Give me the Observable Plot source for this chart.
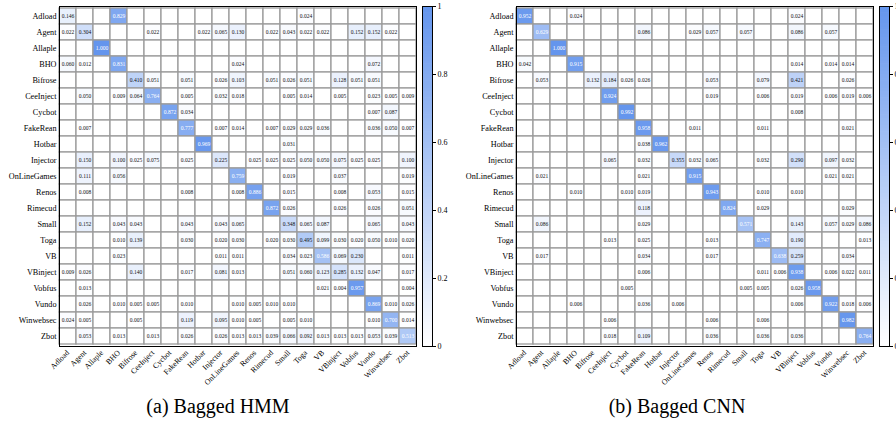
<!DOCTYPE html>
<html>
<head>
<meta charset="utf-8">
<script src="https://cdn.jsdelivr.net/npm/d3@7"></script>
<script src="https://cdn.jsdelivr.net/npm/@observablehq/plot@0.6"></script>
<style>
  html, body { margin: 0; padding: 0; background: #fff; }
  body { width: 896px; height: 423px; overflow: hidden; position: relative; font-family: "Liberation Serif", "Times New Roman", serif; }
  svg, svg text, svg g { font-family: "Liberation Serif", "Times New Roman", serif !important; }
  .abs { position: absolute; }
  .cap { position: absolute; font-size: 20px; line-height: 20px; white-space: nowrap; transform: translateX(-50%); color: #000; font-family: "Liberation Serif", "Times New Roman", serif; }
</style>
</head>
<body>
<script>
const classes = ["Adload","Agent","Allaple","BHO","Bifrose","CeeInject","Cycbot","FakeRean","Hotbar","Injector","OnLineGames","Renos","Rimecud","Small","Toga","VB","VBinject","Vobfus","Vundo","Winwebsec","Zbot"];

// (a) Bagged HMM — rows: actual class, columns: predicted class (same order as classes)
const hmm = [
  [0.146,0,0,0.829,0,0,0,0,0,0,0,0,0,0,0.024,0,0,0,0,0,0],
  [0.022,0.304,0,0,0,0.022,0,0,0.022,0.065,0.130,0,0.022,0.043,0.022,0.022,0,0.152,0.152,0.022,0],
  [0,0,1.000,0,0,0,0,0,0,0,0,0,0,0,0,0,0,0,0,0,0],
  [0.060,0.012,0,0.831,0,0,0,0,0,0,0.024,0,0,0,0,0,0,0,0.072,0,0],
  [0,0,0,0,0.410,0.051,0,0.051,0,0.026,0.103,0,0.051,0.026,0.051,0,0.128,0.051,0.051,0,0],
  [0,0.050,0,0.009,0.064,0.764,0,0.005,0,0.032,0.018,0,0,0.005,0.014,0,0.005,0,0.023,0.005,0.009],
  [0,0,0,0,0,0,0.872,0.034,0,0,0,0,0,0,0,0,0,0,0.007,0.087,0],
  [0,0.007,0,0,0,0,0,0.777,0,0.007,0.014,0,0.007,0.029,0.029,0.036,0,0,0.036,0.050,0.007],
  [0,0,0,0,0,0,0,0,0.969,0,0,0,0,0.031,0,0,0,0,0,0,0],
  [0,0.150,0,0.100,0.025,0.075,0,0.025,0,0.225,0,0.025,0.025,0.025,0.050,0.050,0.075,0.025,0.025,0,0.100],
  [0,0.111,0,0.056,0,0,0,0,0,0,0.759,0,0,0.019,0,0,0.037,0,0,0,0.019],
  [0,0.008,0,0,0,0,0,0.008,0,0,0.008,0.886,0,0.015,0,0,0.008,0,0.053,0,0.015],
  [0,0,0,0,0,0,0,0,0,0,0,0,0.872,0.026,0,0,0.026,0,0.026,0,0.051],
  [0,0.152,0,0.043,0.043,0,0,0.043,0,0.043,0.065,0,0,0.348,0.065,0.087,0,0,0.065,0,0.043],
  [0,0,0,0.010,0.139,0,0,0.030,0,0.020,0.030,0,0.020,0.030,0.495,0.099,0.030,0.020,0.050,0.010,0.020],
  [0,0,0,0.023,0,0,0,0,0,0.011,0.011,0,0,0.034,0.023,0.586,0.069,0.230,0,0,0.011],
  [0.009,0.026,0,0,0.140,0,0,0.017,0,0.081,0.013,0,0,0.051,0.060,0.123,0.285,0.132,0.047,0,0.017],
  [0,0.013,0,0,0,0,0,0,0,0,0,0,0,0,0,0.021,0.004,0.957,0,0,0.004],
  [0,0.026,0,0.010,0.005,0.005,0,0.010,0,0,0.010,0.005,0.010,0.010,0,0,0,0,0.869,0.010,0.026],
  [0.024,0.005,0,0,0.005,0,0,0.119,0,0.095,0.010,0.005,0,0.005,0.010,0,0,0,0.010,0.700,0.014],
  [0,0.053,0,0.013,0,0.013,0,0.026,0,0.026,0.013,0.013,0.039,0.066,0.092,0.013,0.013,0.013,0.053,0.039,0.513]
];

// (b) Bagged CNN
const cnn = [
  [0.952,0,0,0.024,0,0,0,0,0,0,0,0,0,0,0,0,0.024,0,0,0,0],
  [0,0.629,0,0,0,0,0,0.086,0,0,0.029,0.057,0,0.057,0,0,0.086,0,0.057,0,0],
  [0,0,1.000,0,0,0,0,0,0,0,0,0,0,0,0,0,0,0,0,0,0],
  [0.042,0,0,0.915,0,0,0,0,0,0,0,0,0,0,0,0,0.014,0,0.014,0.014,0],
  [0,0.053,0,0,0.132,0.184,0.026,0.026,0,0,0,0.053,0,0,0.079,0,0.421,0,0,0.026,0],
  [0,0,0,0,0,0.924,0,0,0,0,0,0.019,0,0,0.006,0,0.019,0,0.006,0.019,0.006],
  [0,0,0,0,0,0,0.992,0,0,0,0,0,0,0,0,0,0.008,0,0,0,0],
  [0,0,0,0,0,0,0,0.958,0,0,0.011,0,0,0,0.011,0,0,0,0,0.021,0],
  [0,0,0,0,0,0,0,0.038,0.962,0,0,0,0,0,0,0,0,0,0,0,0],
  [0,0,0,0,0,0.065,0,0.032,0,0.355,0.032,0.065,0,0,0.032,0,0.290,0,0.097,0.032,0],
  [0,0.021,0,0,0,0,0,0.021,0,0,0.915,0,0,0,0,0,0,0,0.021,0.021,0],
  [0,0,0,0.010,0,0,0.010,0.019,0,0,0,0.943,0,0,0.010,0,0.010,0,0,0,0],
  [0,0,0,0,0,0,0,0.118,0,0,0,0,0.824,0,0.029,0,0,0,0,0.029,0],
  [0,0.086,0,0,0,0,0,0.029,0,0,0,0,0,0.571,0,0,0.143,0,0.057,0.029,0.086],
  [0,0,0,0,0,0.013,0,0.025,0,0,0,0.013,0,0,0.747,0,0.190,0,0,0,0.013],
  [0,0.017,0,0,0,0,0,0.034,0,0,0,0.017,0,0,0,0.638,0.259,0,0,0.034,0],
  [0,0,0,0,0,0,0,0.006,0,0,0,0,0,0,0.011,0.006,0.938,0,0.006,0.022,0.011],
  [0,0,0,0,0,0,0.005,0,0,0,0,0,0,0.005,0.005,0,0.026,0.958,0,0,0],
  [0,0,0,0.006,0,0,0,0.036,0,0.006,0,0,0,0,0,0,0.006,0,0.922,0.018,0.006],
  [0,0,0,0,0,0.006,0,0,0,0,0,0.006,0,0,0.006,0,0,0,0,0.982,0],
  [0,0,0,0,0,0.018,0,0.109,0,0,0,0.036,0,0,0.036,0,0.036,0,0,0,0.764]
];

const captions = ["(a) Bagged HMM", "(b) Bagged CNN"];
const colorbarTicks = [0, 0.2, 0.4, 0.6, 0.8, 1];

const FONT = "'Liberation Serif', 'Times New Roman', serif";
const colorScale = {type: "linear", domain: [0, 1], range: ["#ffffff", "#6495ed"], interpolate: "rgb"};
const fmt = d3.format(".3f");
const H = 396, MT = 6, MB = 50;

function place(el, left, top) {
  el.classList.add("abs");
  el.style.left = left + "px";
  el.style.top = top + "px";
  document.body.appendChild(el);
}

function matrixPlot(matrix) {
  const cells = classes.flatMap((r, i) => classes.map((c, j) => ({actual: r, pred: c, v: matrix[i][j]})));
  const nz = cells.filter(d => d.v > 0);
  return Plot.plot({
    width: 418, height: H,
    marginLeft: 59, marginRight: 2, marginTop: MT, marginBottom: MB,
    x: {domain: classes, padding: 0},
    y: {domain: classes, padding: 0},
    color: colorScale,
    style: {fontFamily: FONT, background: "transparent", overflow: "visible"},
    marks: [
      Plot.cell(cells, {x: "pred", y: "actual", fill: "v", stroke: "#9b9b9b", strokeWidth: 1.3, inset: 0}),
      Plot.text(nz.filter(d => d.v <= 0.5), {x: "pred", y: "actual", text: d => fmt(d.v), fill: "#111", fontSize: 5.5}),
      Plot.text(nz.filter(d => d.v > 0.5), {x: "pred", y: "actual", text: d => fmt(d.v), fill: "#fff", fontSize: 5.5}),
      Plot.frame({stroke: "#000", strokeWidth: 1}),
      Plot.axisX({anchor: "bottom", tickRotate: -45, tickSize: 0, tickPadding: 5, fontSize: 7.8, label: null}),
      Plot.axisY({anchor: "left", tickSize: 0, tickPadding: 3, fontSize: 8.2, label: null})
    ]
  });
}

function colorbar() {
  const ramp = d3.range(0, 1, 0.01);
  return Plot.plot({
    width: 32, height: H,
    marginLeft: 0, marginRight: 22, marginTop: MT, marginBottom: MB,
    y: {domain: [0, 1]},
    color: colorScale,
    style: {fontFamily: FONT, background: "transparent", overflow: "visible"},
    marks: [
      Plot.rect(ramp, {y1: d => d, y2: d => Math.min(1, d + 0.012), fill: d => d + 0.005}),
      Plot.frame({stroke: "#000", strokeWidth: 1}),
      Plot.axisY({anchor: "right", ticks: colorbarTicks, tickSize: 3, tickPadding: 2, fontSize: 8, tickFormat: d => String(d), label: null})
    ]
  });
}

const lefts = [0, 457];
const capX = [218, 677];
[hmm, cnn].forEach((m, k) => {
  place(matrixPlot(m), lefts[k], 0);
  place(colorbar(), lefts[k] + 422, 0);
  const cap = document.createElement("div");
  cap.className = "cap";
  cap.textContent = captions[k];
  cap.style.left = capX[k] + "px";
  cap.style.top = "396px";
  document.body.appendChild(cap);
});
</script>
</body>
</html>
